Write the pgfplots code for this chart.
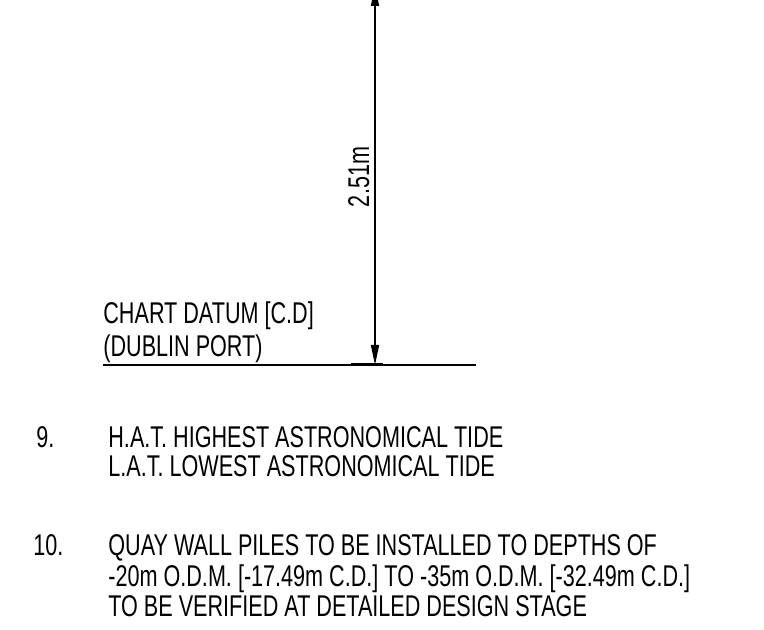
\documentclass[border=0pt]{standalone}
\usepackage{fontspec}
\setmainfont{Liberation Sans}[FakeStretch=0.72]
\usepackage{pgfplots}
\pgfplotsset{compat=1.18}
\usetikzlibrary{arrows.meta}
\begin{document}
\begin{tikzpicture}
\useasboundingbox (0,0) rectangle (382pt,315pt);
\clip (0,0) rectangle (382pt,315pt);
\begin{axis}[
  at={(0,0)}, anchor=south west,
  width=382pt, height=315pt, scale only axis,
  xmin=0, xmax=764, ymin=0, ymax=630, y dir=reverse,
  hide axis, clip=true,
]
% dimension line
\addplot[black, line width=0.8pt, {Triangle[length=10pt,width=4pt]}-{Triangle[length=10pt,width=4pt]}]
  coordinates {(375,-14) (375,365)};
% chart datum line
\addplot[black, line width=1pt] coordinates {(103,365) (476,365)};
\addplot[black, line width=1.5pt] coordinates {(351,365) (383,365)};
\end{axis}
\begin{scope}[x=0.5pt,y=-0.5pt,shift={(0,315pt)}]
\tikzset{t/.style={anchor=base west, inner sep=0pt, font=\fontsize{15pt}{16pt}\selectfont}}
\node[t, rotate=90, anchor=base] at (369,177) {2.51m};
\node[t] at (103,324) {CHART DATUM [C.D]};
\node[t] at (103,357) {(DUBLIN PORT)};
\node[t] at (36,448) {9.};
\node[t] at (108,448) {H.A.T. HIGHEST ASTRONOMICAL TIDE};
\node[t] at (108,477) {L.A.T. LOWEST ASTRONOMICAL TIDE};
\node[t] at (33,556) {10.};
\node[t] at (108,556) {QUAY WALL PILES TO BE INSTALLED TO DEPTHS OF};
\node[t] at (108,587) {-20m O.D.M. [-17.49m C.D.] TO -35m O.D.M. [-32.49m C.D.]};
\node[t] at (108,617) {TO BE VERIFIED AT DETAILED DESIGN STAGE};
\end{scope}
\end{tikzpicture}
\end{document}
